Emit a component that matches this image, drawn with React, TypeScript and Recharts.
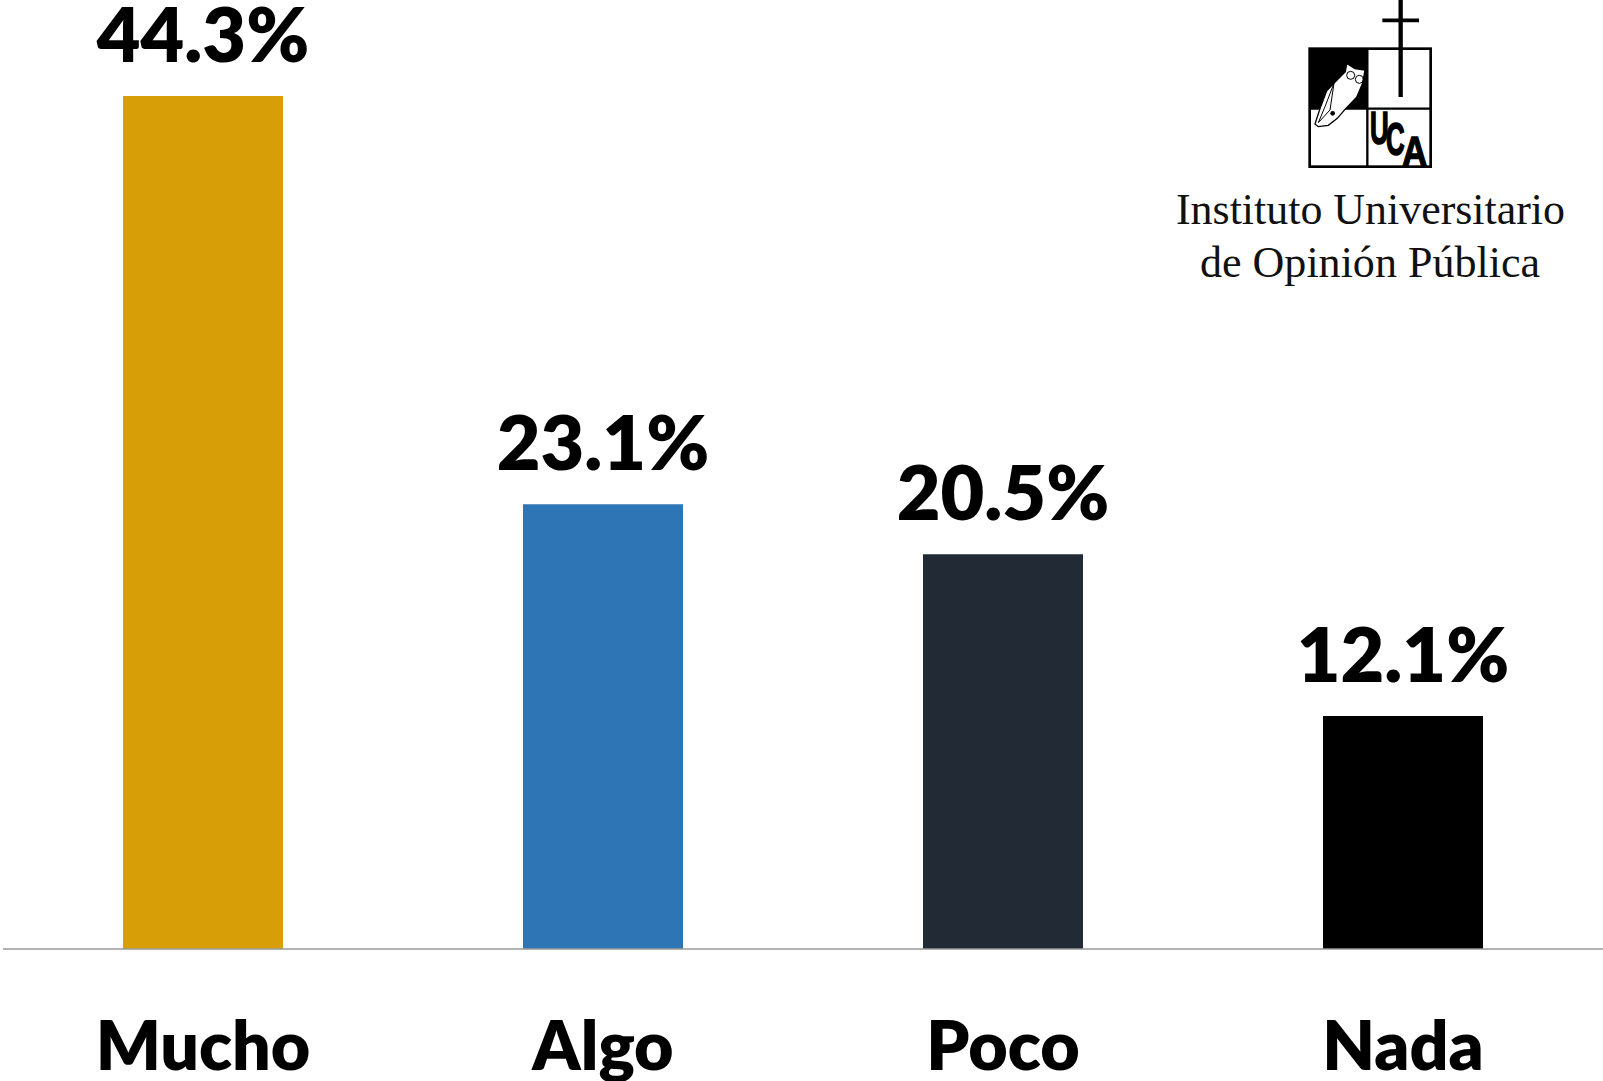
import React from "react";
import { BarChart, Bar, XAxis, YAxis, Cell, LabelList } from "recharts";

const categories = ["Mucho", "Algo", "Poco", "Nada"];
const values = [44.3, 23.1, 20.5, 12.1];
const colors = ["#D89E08", "#2E75B6", "#222A35", "#000000"];
const data = categories.map((name, i) => ({ name, value: values[i] }));
const FONT = "Lato, 'Open Sans', sans-serif";

function Logo() {
  return (
    <svg width={1603} height={1081} style={{ position: "absolute", left: 0, top: 0, pointerEvents: "none" }}>
      <g transform="translate(1150,0) scale(0.33333)">
        <rect x={479} y={146} width={363} height={354} fill="#fff" stroke="#000" strokeWidth={8} />
        <rect x={479} y={146} width={173} height={180} fill="#000" />
        <line x1={652} y1={146} x2={652} y2={500} stroke="#000" strokeWidth={7} />
        <line x1={479} y1={326} x2={842} y2={326} stroke="#000" strokeWidth={7} />
        <line x1={752} y1={0} x2={752} y2={291} stroke="#000" strokeWidth={13} />
        <line x1={697} y1={61} x2={807} y2={61} stroke="#000" strokeWidth={11} />
        <path
          d="M645 210 L615 206 L590 190 L586 215 L556 245 L530 272 L512 320 L495 372 L505 380 L535 376 L562 355 L585 328 L620 292 L638 250 Z"
          fill="#fff"
          stroke="#000"
          strokeWidth={4}
        />
        <circle cx={602} cy={226} r={12} fill="none" stroke="#000" strokeWidth={3} />
        <circle cx={628} cy={238} r={12} fill="none" stroke="#000" strokeWidth={3} />
        <path d="M552 250 L525 320 L505 368 L540 330 Z" fill="none" stroke="#000" strokeWidth={3} />
        <circle cx={548} cy={340} r={7} fill="#000" />
        <text x={660} y={432} fontFamily="'Liberation Sans'" fontWeight={700} fontSize={140} stroke="#000" strokeWidth={5} textLength={56} lengthAdjust="spacingAndGlyphs" fill="#000">U</text>
        <text x={708} y={465} fontFamily="'Liberation Sans'" fontWeight={700} fontSize={140} stroke="#000" strokeWidth={5} textLength={56} lengthAdjust="spacingAndGlyphs" fill="#000">C</text>
        <text x={756} y={497} fontFamily="'Liberation Sans'" fontWeight={700} fontSize={130} stroke="#000" strokeWidth={4} textLength={76} lengthAdjust="spacingAndGlyphs" fill="#000">A</text>
      </g>
      <text x={1176} y={224} fontFamily="'Liberation Serif'" fontSize={44} textLength={389} lengthAdjust="spacingAndGlyphs" fill="#111">Instituto Universitario</text>
      <text x={1200} y={277} fontFamily="'Liberation Serif'" fontSize={44} textLength={340} lengthAdjust="spacingAndGlyphs" fill="#111">de Opinión Pública</text>
    </svg>
  );
}

export default function App() {
  return (
    <div style={{ position: "absolute", left: 0, top: 0, width: 1603, height: 1081, overflow: "hidden", background: "#fff" }}>
      <BarChart
        width={1603}
        height={1081}
        data={data}
        margin={{ top: 96, right: 0, bottom: 0, left: 3 }}
        barCategoryGap={120}
      >
        <XAxis
          dataKey="name"
          axisLine={{ stroke: "#999999", strokeWidth: 1.5 }}
          tickLine={false}
          height={132}
          tickMargin={67}
          interval={0}
          tick={{ fill: "#000", fontFamily: FONT, fontWeight: 800, fontSize: 68 }}
        />
        <YAxis hide domain={[0, 44.3]} />
        <Bar dataKey="value" isAnimationActive={false}>
          {data.map((d, i) => (
            <Cell key={d.name} fill={colors[i]} />
          ))}
          <LabelList
            dataKey="value"
            position="top"
            offset={34}
            formatter={(v: number) => `${v.toFixed(1)}%`}
            fill="#000"
            fontFamily={FONT}
            fontWeight={800}
            fontSize={75.5}
          />
        </Bar>
      </BarChart>
      <Logo />
    </div>
  );
}
